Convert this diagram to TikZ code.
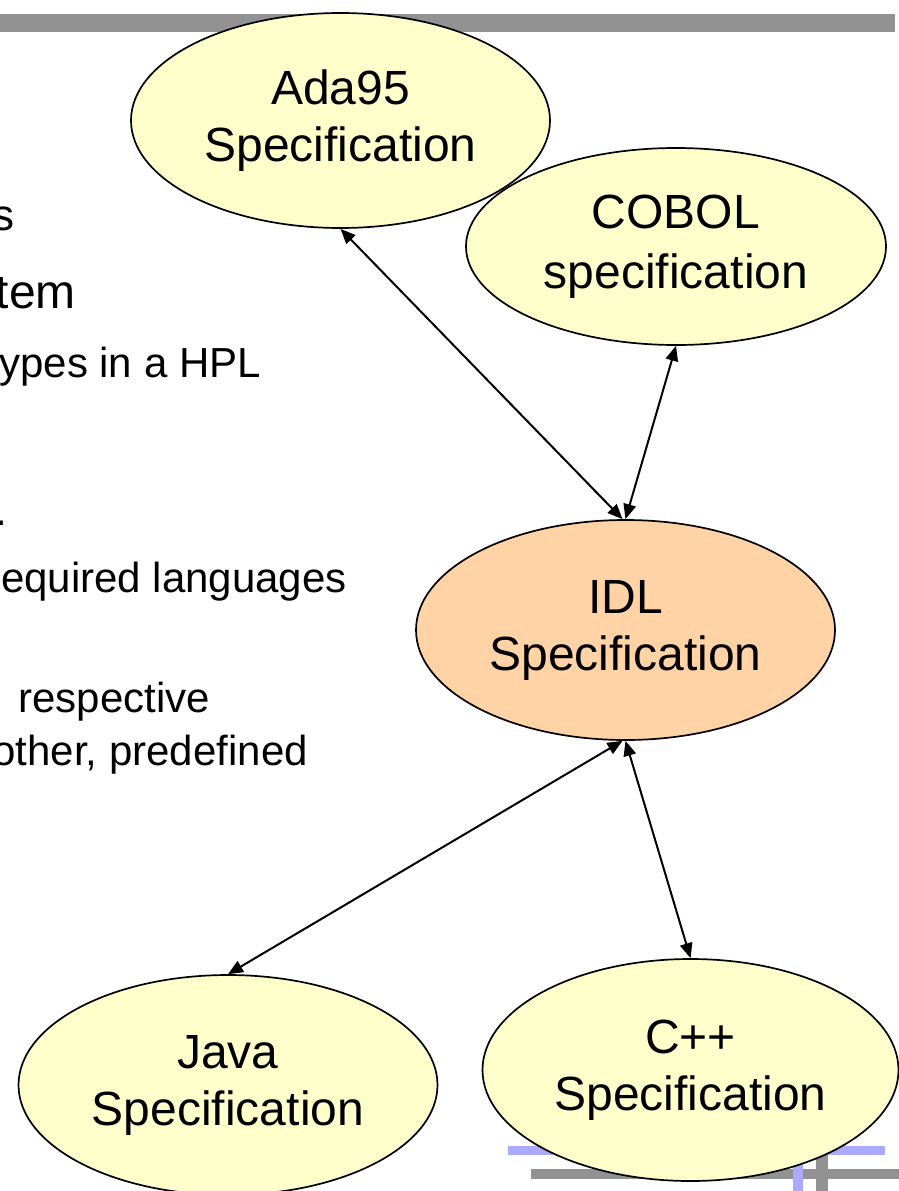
\documentclass[tikz,border=0pt]{standalone}
\usepackage{fontspec}
\setmainfont{Liberation Sans}
\usetikzlibrary{shapes.geometric,arrows.meta}
\definecolor{yel}{HTML}{FFFFCC}
\definecolor{peach}{HTML}{FFD3A6}
\definecolor{bargray}{HTML}{929292}
\definecolor{barblue}{HTML}{AAAAFF}
\tikzset{
  ell/.style={ellipse, draw=black, line width=1.7pt, fill=yel, inner sep=0pt,
    minimum width=419pt, align=center, font=\fontsize{48}{57}\selectfont},
  arr/.style={{Triangle[length=15pt,width=12.5pt]}-{Triangle[length=15pt,width=12.5pt]}, line width=2pt},
  frag/.style={anchor=base east, inner sep=0pt, font=\fontsize{42}{48}\selectfont},
}
\begin{document}
\begin{tikzpicture}[x=1pt,y=-1pt]
\useasboundingbox (0,0) rectangle (899,1191);
% top bar
\fill[bargray] (0,14) rectangle (895,32);
% left text fragments
\node[frag, font=\fontsize{44}{50}\selectfont] (t1) at (15,230) {s};
\node[frag, font=\fontsize{48}{55}\selectfont] (t2) at (76,308) {tem};
\node[frag] (t3) at (261,377) {ypes in a HPL};
\node[anchor=base west, inner sep=0pt, font=\fontsize{42}{48}\selectfont] (t4) at (-5,525) {.};
\node[frag] (t5) at (347,592) {equired languages};
\node[frag] (t6) at (210,712) {respective};
\node[frag] (t7) at (308,765) {other, predefined};
% nodes
\node[ell, minimum height=215pt] (ada) at (340.5,120.5) {Ada95\\Specification};
\node[ell, minimum height=197pt, minimum width=420pt] (cobol) at (676,246.5) {\raisebox{3pt}{COBOL}\\specification};
\node[ell, fill=peach, minimum height=220pt] (idl) at (625.5,630) {IDL\\Specification};
\node[ell, minimum height=220pt] (java) at (228,1085) {Java\\Specification};
% bottom-right decoration
\fill[barblue] (508,1146) rectangle (885,1155);
\fill[bargray] (531,1169) rectangle (899,1179);
\fill[barblue] (793,1146) rectangle (803,1191);
\fill[bargray] (816,1150) rectangle (828,1191);
\node[ell, minimum height=222pt, minimum width=416pt] (cpp) at (690.5,1070) {C++\\Specification};
% connectors
\draw[arr] (ada.south) -- ([xshift=-3pt]idl.north);
\draw[arr] (cobol.south) -- (idl.north);
\draw[arr] ([xshift=-3pt]idl.south) -- (java.north);
\draw[arr] (idl.south) -- (cpp.north);
\end{tikzpicture}
\end{document}
